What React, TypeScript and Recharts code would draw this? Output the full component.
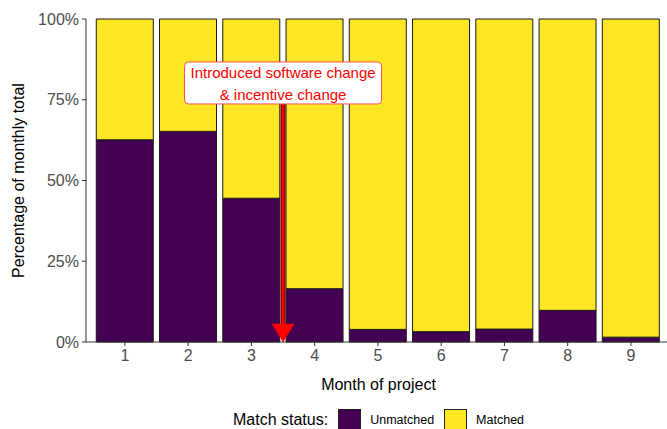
import { Bar, BarChart, ReferenceDot, ReferenceLine, XAxis, YAxis } from 'recharts';

document.body.style.margin = '0';

const months = [1, 2, 3, 4, 5, 6, 7, 8, 9];
// Share of monthly total that stayed unmatched (%).
const unmatchedPct = [62.6, 65.2, 44.5, 16.5, 3.9, 3.2, 4.0, 9.8, 1.5];
const yTicks = [0, 25, 50, 75, 100];
const noteLines = ['Introduced software change', '& incentive change'];
const changeMonth = 3.5;
const noteLevel = 80.2;

const PURPLE = '#440154';
const YELLOW = '#FDE725';
const FONT = '"Liberation Sans", Arial, sans-serif';

const data = months.map((m, i) => ({
  month: m,
  unmatched: unmatchedPct[i],
  matched: 100 - unmatchedPct[i],
}));

function Arrow(props: any) {
  const { x1, y1, x2, y2 } = props;
  const head = 18;
  return (
    <g>
      <line x1={x1} y1={y1} x2={x2} y2={y2 - head} stroke="#5a0000" strokeWidth={5} />
      <line x1={x1} y1={y1} x2={x2} y2={y2 - head} stroke="#ff0000" strokeWidth={3} />
      <polygon
        points={`${x2 - 11},${y2 - head} ${x2 + 11},${y2 - head} ${x2},${y2}`}
        fill="#ff0000"
        stroke="#ff0000"
        strokeWidth={0.5}
      />
    </g>
  );
}

function NoteBox(props: any) {
  const { cx, cy } = props;
  const w = 197;
  const h = 42;
  return (
    <g>
      <rect
        x={cx - w / 2}
        y={cy - h / 2}
        width={w}
        height={h}
        rx={4}
        fill="#ffffff"
        stroke="#ff4d4d"
        strokeWidth={1}
      />
      {noteLines.map((t, i) => (
        <text
          key={t}
          x={cx}
          y={cy - 4.5 + i * 21.5}
          textAnchor="middle"
          fontFamily={FONT}
          fontSize={15}
          fill="#ff0000"
        >
          {t}
        </text>
      ))}
    </g>
  );
}

function Swatch({ color }: { color: string }) {
  return (
    <span
      style={{
        display: 'inline-block',
        width: 21,
        height: 19,
        background: color,
        border: '1px solid #222',
        verticalAlign: 'middle',
      }}
    />
  );
}

export default function App() {
  return (
    <div style={{ position: 'relative', width: 667, height: 429, background: '#fff', fontFamily: FONT }}>
      <BarChart
        width={667}
        height={429}
        data={data}
        margin={{ top: 19, right: 0, bottom: 0, left: 8 }}
      >
        <XAxis
          dataKey="month"
          type="number"
          domain={[0.385, 9.57]}
          ticks={months}
          height={87}
          tickSize={4}
          tickMargin={4}
          stroke="#333333"
          tick={{ fill: '#4d4d4d', fontSize: 16, fontFamily: FONT }}
          label={(p: any) => {
            const vb = p.viewBox;
            return (
              <text
                x={vb.x + vb.width / 2 + 2}
                y={vb.y + 48}
                textAnchor="middle"
                fontFamily={FONT}
                fontSize={16}
                fill="#000"
              >
                Month of project
              </text>
            );
          }}
        />
        <YAxis
          domain={[0, 100]}
          ticks={yTicks}
          width={78}
          tickSize={4}
          tickMargin={3}
          stroke="#333333"
          tickFormatter={(v: number) => `${v}%`}
          tick={{ fill: '#4d4d4d', fontSize: 16, fontFamily: FONT }}
          label={(p: any) => {
            const vb = p.viewBox;
            const cy = vb.y + vb.height / 2;
            return (
              <text
                x={18}
                y={cy}
                transform={`rotate(-90 18 ${cy})`}
                textAnchor="middle"
                dominantBaseline="central"
                fontFamily={FONT}
                fontSize={16}
                fill="#000"
              >
                Percentage of monthly total
              </text>
            );
          }}
        />
        <Bar
          dataKey="unmatched"
          stackId="s"
          barSize={57}
          fill={PURPLE}
          stroke="#1a1a1a"
          strokeWidth={1}
          isAnimationActive={false}
        />
        <Bar
          dataKey="matched"
          stackId="s"
          barSize={57}
          fill={YELLOW}
          stroke="#1a1a1a"
          strokeWidth={1}
          isAnimationActive={false}
        />
        <ReferenceLine
          segment={[
            { x: changeMonth, y: noteLevel },
            { x: changeMonth, y: 0 },
          ]}
          shape={Arrow}
        />
        <ReferenceDot x={changeMonth} y={noteLevel} shape={NoteBox} />
      </BarChart>
      <div
        style={{
          position: 'absolute',
          left: 233,
          top: 409,
          display: 'flex',
          alignItems: 'center',
          whiteSpace: 'nowrap',
          color: '#000',
        }}
      >
        <span style={{ fontSize: 16, marginRight: 10 }}>Match status:</span>
        <Swatch color={PURPLE} />
        <span style={{ fontSize: 12.5, marginLeft: 9, marginRight: 10 }}>Unmatched</span>
        <Swatch color={YELLOW} />
        <span style={{ fontSize: 12.5, marginLeft: 9 }}>Matched</span>
      </div>
    </div>
  );
}
